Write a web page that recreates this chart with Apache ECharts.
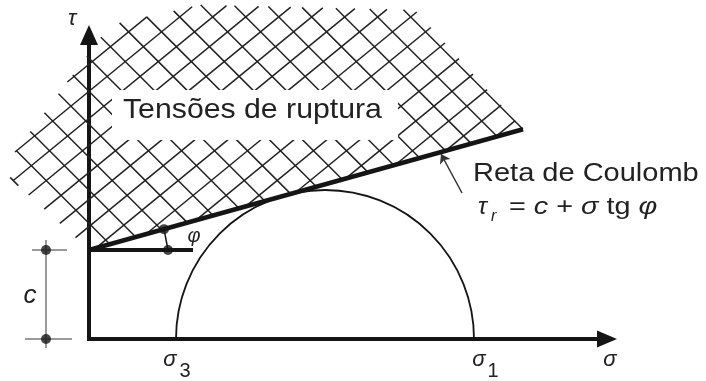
<!DOCTYPE html>
<html>
<head>
<meta charset="utf-8">
<script src="https://cdn.jsdelivr.net/npm/echarts@6/dist/echarts.min.js"></script>
<style>
  html, body { margin: 0; padding: 0; background: #fff; }
  #chart { width: 706px; height: 381px; }
</style>
</head>
<body>
<div id="chart"></div>
<script>
// Mohr–Coulomb failure criterion: a stress circle (σ3, σ1) tangent to the
// Coulomb envelope τr = c + σ tg φ. Both axes share one stress scale.
const sigmaAxisMax = 518;
const tauAxisMax = 304;
const sigma3 = 87;
const sigma1 = 385;
const cohesion = 89;
const tanPhi = 0.2782;
const envelopeSigma = [0, 434];
const phiMarkSigma = [75, 79];          // marker on envelope, marker on horizontal
const cohesionLineEnd = 104;
const cohesionDimSigma = -43;
const cohesionDimTicks = [[-57, -22], [-64, -17]];   // tick spans at τ = c and τ = 0
const pointerFrom = [373, 146];
const pointerTo = [352, 185];
// outer corners of the rupture zone above the envelope (σ, τ)
const ruptureZoneCorners = [[-79, 161], [-74, 187], [21, 314], [111, 334], [326, 329]];
const textBox = { from: [23, 249], to: [309, 199] };

const INK = '#151515';
const GREY = '#9a9a9a';
const envelope = envelopeSigma.map(s => [s, cohesion + s * tanPhi]);
const ruptureZone = [envelope[0], ...ruptureZoneCorners, envelope[1]];

const chart = echarts.init(document.getElementById('chart'));

// straight segments [[σa, τa, σb, τb], ...] drawn through the cartesian scales
function segments(rows, color, width, z) {
  return {
    type: 'custom', clip: false, silent: true, z: z || 3,
    data: rows,
    renderItem: function (params, api) {
      const a = api.coord([api.value(0), api.value(1)]);
      const b = api.coord([api.value(2), api.value(3)]);
      return {
        type: 'line',
        shape: { x1: a[0], y1: a[1], x2: b[0], y2: b[1] },
        style: { stroke: color, lineWidth: width, lineCap: 'butt' }
      };
    }
  };
}

// cross-hatching clipped to a convex polygon (pixel space)
function hatchLines(poly, anchorA, anchorB) {
  const fams = [
    { d: [1, 1], step: 33, anchor: anchorA },
    { d: [1, -0.82], step: 33, anchor: anchorB }
  ];
  const n = poly.length;
  const out = [];
  fams.forEach(f => {
    for (let k = -40; k <= 40; k++) {
      const p0 = [f.anchor[0] + k * f.step, f.anchor[1]];
      let t0 = -2000, t1 = 2000, ok = true;
      for (let i = 0; i < n; i++) {
        const a = poly[i], b = poly[(i + 1) % n];
        const e = [b[0] - a[0], b[1] - a[1]];
        const c0 = e[0] * (p0[1] - a[1]) - e[1] * (p0[0] - a[0]);
        const cd = e[0] * f.d[1] - e[1] * f.d[0];
        if (Math.abs(cd) < 1e-9) { if (c0 > 0) { ok = false; break; } continue; }
        const t = -c0 / cd;
        if (cd > 0) t1 = Math.min(t1, t); else t0 = Math.max(t0, t);
      }
      if (ok && t1 > t0) {
        out.push({
          type: 'line',
          shape: { x1: p0[0] + t0 * f.d[0], y1: p0[1] + t0 * f.d[1],
                   x2: p0[0] + t1 * f.d[0], y2: p0[1] + t1 * f.d[1] },
          style: { stroke: '#222', lineWidth: 1.5 }
        });
      }
    }
  });
  return out;
}

const option = {
  animation: false,
  backgroundColor: '#fff',
  grid: { left: 89, right: 706 - 89 - sigmaAxisMax, top: 381 - 42 - tauAxisMax, bottom: 42 },
  xAxis: {
    type: 'value', min: 0, max: sigmaAxisMax,
    axisLine: { show: true, onZero: false, symbol: ['none', 'triangle'], symbolSize: [17, 20],
      lineStyle: { color: INK, width: 4, cap: 'square' } },
    axisTick: { show: false }, axisLabel: { show: false }, splitLine: { show: false }
  },
  yAxis: {
    type: 'value', min: 0, max: tauAxisMax,
    axisLine: { show: true, onZero: false, symbol: ['none', 'triangle'], symbolSize: [18, 20],
      lineStyle: { color: INK, width: 4, cap: 'square' } },
    axisTick: { show: false }, axisLabel: { show: false }, splitLine: { show: false }
  },
  series: [
    {
      // rupture zone hatching
      type: 'custom', clip: false, silent: true, z: 1,
      data: [0],
      renderItem: function (params, api) {
        const poly = ruptureZone.map(p => api.coord(p));
        const ccw = poly.slice().reverse();
        return { type: 'group', children: hatchLines(ccw, poly[poly.length - 1], poly[2]) };
      }
    },
    {
      // Mohr circle
      type: 'custom', clip: false, silent: true, z: 3,
      data: [[sigma3, sigma1]],
      renderItem: function (params, api) {
        const a = api.coord([api.value(0), 0]);
        const b = api.coord([api.value(1), 0]);
        return {
          type: 'arc',
          shape: { cx: (a[0] + b[0]) / 2, cy: a[1], r: (b[0] - a[0]) / 2,
                   startAngle: Math.PI, endAngle: 2 * Math.PI, clockwise: true },
          style: { stroke: INK, fill: null, lineWidth: 1.8 }
        };
      }
    },
    segments([[envelope[0][0], envelope[0][1], envelope[1][0], envelope[1][1]]], INK, 4.5, 4),
    segments([[0, cohesion, cohesionLineEnd, cohesion]], INK, 4, 4),
    segments([[phiMarkSigma[0], cohesion + phiMarkSigma[0] * tanPhi, phiMarkSigma[1], cohesion]], INK, 1.5, 4),
    segments([
      [cohesionDimSigma, cohesion + 10, cohesionDimSigma, -9],
      [cohesionDimTicks[0][0], cohesion, cohesionDimTicks[0][1], cohesion],
      [cohesionDimTicks[1][0], 0, cohesionDimTicks[1][1], 0]
    ], GREY, 2, 2),
    {
      type: 'scatter', clip: false, silent: true, z: 5,
      symbol: 'circle', symbolSize: 10, itemStyle: { color: INK },
      data: [
        [phiMarkSigma[0], cohesion + phiMarkSigma[0] * tanPhi],
        [phiMarkSigma[1], cohesion],
        [cohesionDimSigma, cohesion],
        [cohesionDimSigma, 0]
      ]
    },
    {
      type: 'lines', coordinateSystem: 'cartesian2d', silent: true, z: 5,
      symbol: ['none', 'arrow'], symbolSize: 9,
      lineStyle: { color: '#333', width: 1.5, opacity: 1 },
      data: [{ coords: [pointerFrom, pointerTo] }]
    }
  ]
};
chart.setOption(option);

// annotations placed from data positions
const px = p => chart.convertToPixel({ gridIndex: 0 }, p);
const SANS = '"Liberation Sans", Arial, sans-serif';
function label(x, y, text, size, opts) {
  return Object.assign({
    type: 'text', x: x, y: y, z: 101,
    style: Object.assign({ text: text, fontSize: size, fontFamily: SANS, fill: '#222',
      align: 'center', verticalAlign: 'middle' }, (opts && opts.style) || {})
  }, (opts && opts.el) || {});
}
const it = { style: { fontStyle: 'italic' } };
const s3 = px([sigma3, 0]);
const s1 = px([sigma1, 0]);
const origin = px([0, 0]);
const boxA = px(textBox.from), boxB = px(textBox.to);
const tauTop = px([0, tauAxisMax]);
const sigEnd = px([sigmaAxisMax, 0]);
const cPix = px([cohesionDimSigma, cohesion / 2]);
const phiPix = px([phiMarkSigma[1] + 26, cohesion + 14]);

chart.setOption({
  graphic: [
    { type: 'rect', z: 100, shape: { x: boxA[0], y: boxA[1], width: boxB[0] - boxA[0], height: boxB[1] - boxA[1] },
      style: { fill: '#fff' } },
    label(boxA[0] + 11, boxA[1] + 20, 'Tensões de ruptura', 28, { style: { align: 'left' }, el: { scaleX: 1.08 } }),
    label(473, 174, 'Reta de Coulomb', 25, { style: { align: 'left' }, el: { scaleX: 1.16 } }),
    label(478, 207, 'τ', 24, { style: { align: 'left', fontStyle: 'italic' } }),
    label(491, 217, 'r', 16, { style: { align: 'left', fontStyle: 'italic' } }),
    {
      type: 'text', x: 509, y: 207, z: 101, scaleX: 1.2,
      style: {
        text: '= {i|c} + {i|σ} tg {i|φ}', fontSize: 24, fontFamily: SANS, fill: '#222',
        align: 'left', verticalAlign: 'middle',
        rich: { i: { fontStyle: 'italic', fontSize: 24, fontFamily: SANS, fill: '#222' } }
      }
    },
    label(tauTop[0] - 17, tauTop[1] - 16, 'τ', 22, it),
    label(sigEnd[0] + 3, origin[1] + 21, 'σ', 22, it),
    label(s3[0] - 6, origin[1] + 21, 'σ', 22, it),
    label(s3[0] + 9, origin[1] + 32, '3', 20),
    label(s1[0] + 5, origin[1] + 21, 'σ', 22, it),
    label(s1[0] + 19, origin[1] + 32, '1', 20),
    label(cPix[0] - 16, cPix[1] + 1, 'c', 26, it),
    label(phiPix[0], phiPix[1], 'φ', 20, it)
  ]
});
</script>
</body>
</html>
